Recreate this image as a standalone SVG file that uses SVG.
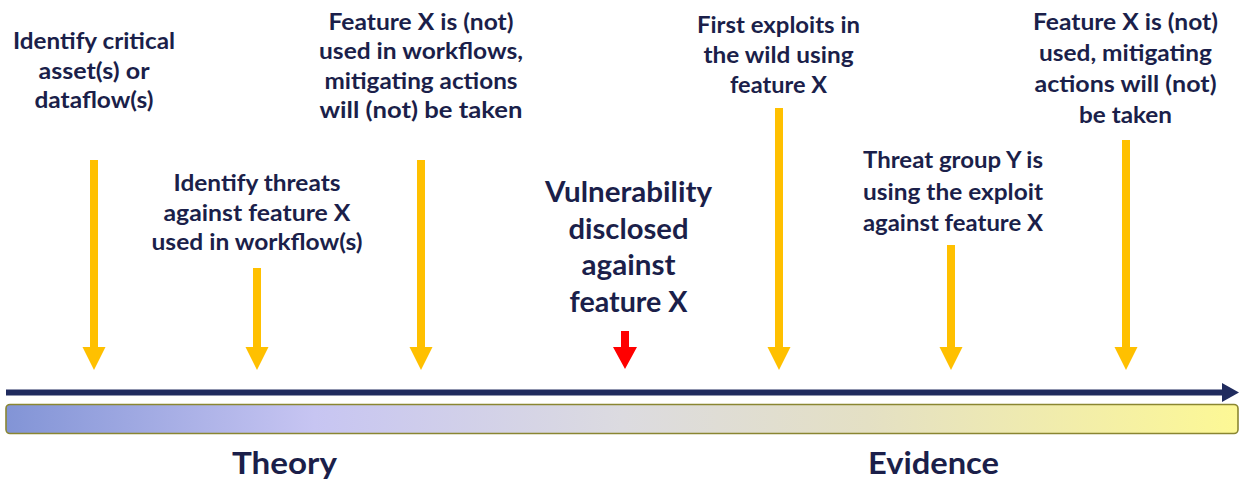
<svg xmlns="http://www.w3.org/2000/svg" width="1239" height="482" viewBox="0 0 1239 482">
  <style>
    .lbl { font-family: Lato, "Open Sans", "Liberation Sans", sans-serif; font-weight: 700; font-size: 22px; fill: #1b1f4a; text-anchor: middle; }
    .big { font-size: 29px; }
    .phase { font-size: 31px; }
    .tick { fill: #ffc000; }
    .hot { fill: #ff0000; }
    .axis { fill: #202b5e; }
  </style>
  <defs>
    <linearGradient id="spectrum" x1="0" y1="0" x2="1" y2="0">
      <stop offset="0" stop-color="#8294d6"/>
      <stop offset="0.25" stop-color="#c7c5f2"/>
      <stop offset="0.5" stop-color="#dcdbe0"/>
      <stop offset="0.7" stop-color="#e4e0c4"/>
      <stop offset="1" stop-color="#fdf895"/>
    </linearGradient>
  </defs>

  <!-- timeline axis and theory/evidence band -->
  <g id="timeline">
    <rect class="axis" x="6" y="389.5" width="1218" height="6"/>
    <polygon class="axis" points="1222,383 1239,392.5 1222,402"/>
    <rect x="6" y="404.5" width="1232" height="29" rx="4" fill="url(#spectrum)" stroke="#8a8632" stroke-width="1.6"/>
    <text class="lbl phase" x="284.5" y="474" textLength="105" lengthAdjust="spacingAndGlyphs">Theory</text>
    <text class="lbl phase" x="933.5" y="474" textLength="131" lengthAdjust="spacingAndGlyphs">Evidence</text>
  </g>

  <!-- event markers pointing at the timeline -->
  <g id="connectors">
    <path class="tick" d="M90 160 H98 V347 H105.5 L94 370 L82.5 347 H90 Z"/>
    <path class="tick" d="M253 268 H261 V347 H268.5 L257 370 L245.5 347 H253 Z"/>
    <path class="tick" d="M417 160 H425 V347 H432.5 L421 370 L409.5 347 H417 Z"/>
    <path class="hot" d="M621 331 H629 V347 H637 L625 369 L613 347 H621 Z"/>
    <path class="tick" d="M775 108 H783 V347 H790.5 L779 370 L767.5 347 H775 Z"/>
    <path class="tick" d="M947 245 H955 V347 H962.5 L951 370 L939.5 347 H947 Z"/>
    <path class="tick" d="M1122 140 H1130 V347 H1137.5 L1126 370 L1114.5 347 H1122 Z"/>
  </g>

  <g id="node-assets">
    <text class="lbl" x="94" y="49" textLength="162" lengthAdjust="spacingAndGlyphs">Identify critical</text>
    <text class="lbl" x="94" y="78.5" textLength="111" lengthAdjust="spacingAndGlyphs">asset(s) or</text>
    <text class="lbl" x="94" y="108" textLength="119" lengthAdjust="spacingAndGlyphs">dataflow(s)</text>
  </g>

  <g id="node-threats">
    <text class="lbl" x="257" y="191" textLength="167" lengthAdjust="spacingAndGlyphs">Identify threats</text>
    <text class="lbl" x="257" y="221" textLength="187" lengthAdjust="spacingAndGlyphs">against feature X</text>
    <text class="lbl" x="257" y="250" textLength="211" lengthAdjust="spacingAndGlyphs">used in workflow(s)</text>
  </g>

  <g id="node-workflows">
    <text class="lbl" x="421" y="29.5" textLength="185" lengthAdjust="spacingAndGlyphs">Feature X is (not)</text>
    <text class="lbl" x="421" y="59" textLength="204" lengthAdjust="spacingAndGlyphs">used in workflows,</text>
    <text class="lbl" x="421" y="88.5" textLength="193" lengthAdjust="spacingAndGlyphs">mitigating actions</text>
    <text class="lbl" x="421" y="118" textLength="203" lengthAdjust="spacingAndGlyphs">will (not) be taken</text>
  </g>

  <g id="node-disclosure">
    <text class="lbl big" x="628.5" y="202" textLength="167" lengthAdjust="spacingAndGlyphs">Vulnerability</text>
    <text class="lbl big" x="628.5" y="238.5" textLength="120" lengthAdjust="spacingAndGlyphs">disclosed</text>
    <text class="lbl big" x="628.5" y="275" textLength="94" lengthAdjust="spacingAndGlyphs">against</text>
    <text class="lbl big" x="628.5" y="311.5" textLength="118" lengthAdjust="spacingAndGlyphs">feature X</text>
  </g>

  <g id="node-exploits">
    <text class="lbl" x="778.5" y="33" textLength="163" lengthAdjust="spacingAndGlyphs">First exploits in</text>
    <text class="lbl" x="778.5" y="63" textLength="150" lengthAdjust="spacingAndGlyphs">the wild using</text>
    <text class="lbl" x="778.5" y="93" textLength="97" lengthAdjust="spacingAndGlyphs">feature X</text>
  </g>

  <g id="node-threat-group">
    <text class="lbl" x="953" y="168" textLength="180" lengthAdjust="spacingAndGlyphs">Threat group Y is</text>
    <text class="lbl" x="953" y="199.5" textLength="180" lengthAdjust="spacingAndGlyphs">using the exploit</text>
    <text class="lbl" x="953" y="231" textLength="180" lengthAdjust="spacingAndGlyphs">against feature X</text>
  </g>

  <g id="node-mitigation">
    <text class="lbl" x="1125.5" y="30" textLength="185" lengthAdjust="spacingAndGlyphs">Feature X is (not)</text>
    <text class="lbl" x="1125.5" y="61" textLength="173" lengthAdjust="spacingAndGlyphs">used, mitigating</text>
    <text class="lbl" x="1125.5" y="92" textLength="182" lengthAdjust="spacingAndGlyphs">actions will (not)</text>
    <text class="lbl" x="1125.5" y="123" textLength="93" lengthAdjust="spacingAndGlyphs">be taken</text>
  </g>
</svg>
